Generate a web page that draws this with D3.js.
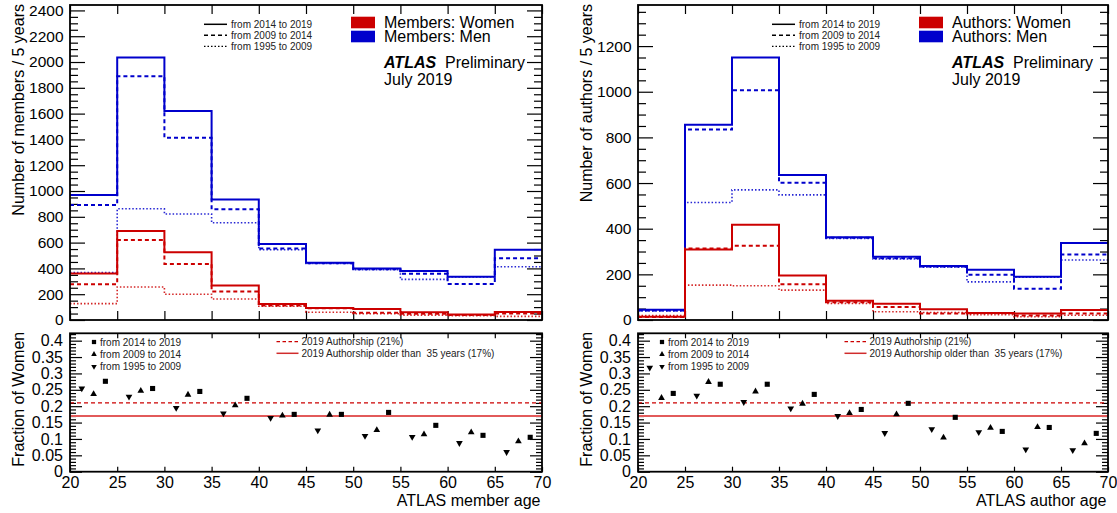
<!DOCTYPE html>
<html><head><meta charset="utf-8">
<script src="https://cdn.jsdelivr.net/npm/d3@7"></script>
<style>
html,body{margin:0;padding:0;background:#fff;}
svg{display:block;font-family:"Liberation Sans",Arial,Helvetica,sans-serif;}
</style></head><body>
<svg id="c" width="1117" height="513"></svg>
<script>
// ---------------- DATA ----------------
const ageEdges = [20,25,30,35,40,45,50,55,60,65,70];
const binStarts = [20,25,30,35,40,45,50,55,60,65];
const xTickLabels = [20,25,30,35,40,45,50,55,60,65,70];
const periods = ["from 2014 to 2019","from 2009 to 2014","from 1995 to 2009"];

// Members (counts / 5 years)
const membersMen2014   = [970, 2035, 1620, 935, 590, 444, 400, 380, 335, 545];
const membersMen2009   = [892, 1889, 1413, 858, 555, 440, 393, 359, 279, 478];
const membersMen1995   = [368,  862,  822, 754, 545, 438, 390, 315, 333, 413];
const membersWomen2014 = [360,  690,  525, 268, 124,  94,  86,  60,  43,  62];
const membersWomen2009 = [278,  620,  434, 220, 112,  92,  56,  48,  38,  51];
const membersWomen1995 = [127,  256,  200, 163, 107,  60,  48,  38,  33,  28];

// Authors (counts / 5 years)
const authorsMen2014   = [45,  855, 1150, 635, 363, 277, 237, 220, 190, 337];
const authorsMen2009   = [42,  835, 1006, 601, 360, 271, 234, 198, 137, 287];
const authorsMen1995   = [40,  515,  570, 548, 357, 268, 231, 167, 188, 263];
const authorsWomen2014 = [14,  309,  417, 195,  84,  71,  47,  31,  29,  44];
const authorsWomen2009 = [13,  313,  325, 157,  78,  57,  29,  30,  20,  29];
const authorsWomen1995 = [19,  153,  150, 131,  73,  36,  33,  23,  14,  21];

// Fraction of women
const membersFrac2014 = [0.276, 0.254, 0.245, 0.224, 0.175, 0.175, 0.181, 0.1415, 0.111, 0.105];
const membersFrac2009 = [0.237, 0.247, 0.235, 0.2025, 0.171, 0.174, 0.127, 0.114, 0.120, 0.0926];
const membersFrac1995 = [0.254, 0.229, 0.195, 0.178, 0.164, 0.126, 0.109, 0.106, 0.0875, 0.060];
const authorsFrac2014 = [0.239, 0.267, 0.267, 0.236, 0.190, 0.2087, 0.166, 0.123, 0.135, 0.117];
const authorsFrac2009 = [0.225, 0.274, 0.245, 0.2076, 0.179, 0.175, 0.104, 0.134, 0.136, 0.0865];
const authorsFrac1995 = [0.3176, 0.232, 0.2127, 0.193, 0.170, 0.118, 0.130, 0.121, 0.068, 0.066];

const authorship2019 = 0.21;
const authorshipOlder35 = 0.17;
const refLabels = ["2019 Authorship (21%)", "2019 Authorship older than  35 years (17%)"];

const membersYTicks = [0,200,400,600,800,1000,1200,1400,1600,1800,2000,2200,2400];
const authorsYTicks = [0,200,400,600,800,1000,1200];
const fracTicks = [0,0.05,0.1,0.15,0.2,0.25,0.3,0.35,0.4];
const fracTickLabels = ["0","0.05","0.1","0.15","0.2","0.25","0.3","0.35","0.4"];

// ---------------- STYLE / LAYOUT ----------------
const RED = "#cc0000", BLUE = "#0000cc";
const TOP_Y0 = 5, TOP_Y1 = 320, BOT_Y0 = 333.3, BOT_Y1 = 471.7;
const FRAC_MAX = 0.4225;
const lineStyles = [
  {dash: null, width: 2, op: 1},
  {dash: "4,3", width: 2, op: 1},
  {dash: "1.5,2", width: 1.6, op: 0.85}
];
const markerOffsets = [3.75, 2.5, 1.25]; // position within 5-year bin
const markerTypes = ["square", "up", "down"];

const panels = [
  {x0: 70, x1: 542, yTitle: "Number of members / 5 years", xTitle: "ATLAS member age",
   legW: "Members: Women", legM: "Members: Men", yTicks: membersYTicks,
   men: [membersMen2014, membersMen2009, membersMen1995],
   women: [membersWomen2014, membersWomen2009, membersWomen1995],
   frac: [membersFrac2014, membersFrac2009, membersFrac1995]},
  {x0: 638, x1: 1108, yTitle: "Number of authors / 5 years", xTitle: "ATLAS author age",
   legW: "Authors: Women", legM: "Authors: Men", yTicks: authorsYTicks,
   men: [authorsMen2014, authorsMen2009, authorsMen1995],
   women: [authorsWomen2014, authorsWomen2009, authorsWomen1995],
   frac: [authorsFrac2014, authorsFrac2009, authorsFrac1995]}
];

const svg = d3.select("#c");
svg.append("rect").attr("width",1117).attr("height",513).attr("fill","#fff");

function styleAxis(g, fs) {
  g.select(".domain").remove();
  g.selectAll(".tick line").attr("stroke","#000").attr("stroke-width",1.2);
  g.selectAll("text").attr("fill","#000").style("font-size", fs+"px")
    .style("font-family",'"Liberation Sans",Arial,sans-serif');
}
function markerPath(type, size) {
  if (type === "square") return d3.symbol().type(d3.symbolSquare).size(size)();
  return d3.symbol().type(d3.symbolTriangle).size(size * 0.75)();
}

panels.forEach(p => {
  const x = d3.scaleLinear().domain([ageEdges[0], ageEdges[ageEdges.length-1]]).range([p.x0, p.x1]);
  const allMax = d3.max([...p.men, ...p.women].flat());
  const y = d3.scaleLinear().domain([0, allMax * 1.2]).range([TOP_Y1, TOP_Y0]);
  const yf = d3.scaleLinear().domain([0, FRAC_MAX]).range([BOT_Y1, BOT_Y0]);
  const minor = d3.range(0, allMax * 1.2, 50).filter(v => v % 200 !== 0);
  const fracMinor = d3.range(0, 0.4201, 0.01).filter(v => Math.abs(v*20 - Math.round(v*20)) > 1e-6);

  // ---- top pad axes ----
  const g = svg.append("g");
  g.append("g").attr("transform",`translate(${p.x0},0)`)
    .call(d3.axisLeft(y).tickValues(p.yTicks).tickSize(-15).tickSizeOuter(0).tickPadding(6.5).tickFormat(d3.format("d")))
    .call(a => styleAxis(a, 15.5));
  g.append("g").attr("transform",`translate(${p.x0},0)`)
    .call(d3.axisLeft(y).tickValues(minor).tickSize(-8).tickSizeOuter(0).tickFormat(""))
    .call(a => styleAxis(a, 15.5));
  g.append("g").attr("transform",`translate(${p.x1},0)`)
    .call(d3.axisRight(y).tickValues(p.yTicks).tickSize(-15).tickSizeOuter(0).tickFormat(""))
    .call(a => styleAxis(a, 15.5));
  g.append("g").attr("transform",`translate(${p.x1},0)`)
    .call(d3.axisRight(y).tickValues(minor).tickSize(-8).tickSizeOuter(0).tickFormat(""))
    .call(a => styleAxis(a, 15.5));
  g.append("g").attr("transform",`translate(0,${TOP_Y1})`)
    .call(d3.axisBottom(x).tickValues(xTickLabels).tickSize(-9).tickSizeOuter(0).tickFormat(""))
    .call(a => styleAxis(a, 15.5));
  g.append("g").attr("transform",`translate(0,${TOP_Y0})`)
    .call(d3.axisTop(x).tickValues(xTickLabels).tickSize(-9).tickSizeOuter(0).tickFormat(""))
    .call(a => styleAxis(a, 15.5));

  // ---- histograms ----
  const line = d3.line().x(d => x(d[0])).y(d => y(d[1])).curve(d3.curveStepAfter);
  const drawHist = (vals, color, st) => {
    const pts = binStarts.map((b,i) => [b, vals[i]]);
    pts.push([ageEdges[ageEdges.length-1], vals[vals.length-1]]);
    g.append("path").attr("d", line(pts)).attr("fill","none")
      .attr("stroke", color).attr("stroke-width", st.width).attr("stroke-opacity", st.op)
      .attr("stroke-dasharray", st.dash);
  };
  [2,1,0].forEach(k => drawHist(p.men[k], BLUE, lineStyles[k]));
  [2,1,0].forEach(k => drawHist(p.women[k], RED, lineStyles[k]));

  // ---- top legends ----
  const lx = p.x0 + 134, ly = [24.3, 35.3, 46.3];
  periods.forEach((t,i) => {
    g.append("line").attr("x1", lx).attr("x2", lx + 23).attr("y1", ly[i]).attr("y2", ly[i])
      .attr("stroke","#000").attr("stroke-width", i===2 ? 1.3 : 1.5).attr("stroke-dasharray", lineStyles[i].dash);
    g.append("text").attr("x", lx + 27).attr("y", ly[i] + 3.5).text(t)
      .style("font-size","10px").attr("fill","#222");
  });
  const bx = p.x0 + 281;
  g.append("rect").attr("x", bx).attr("y", 16.7).attr("width", 24).attr("height", 11.6).attr("fill", RED);
  g.append("rect").attr("x", bx).attr("y", 30.7).attr("width", 24).attr("height", 11.6).attr("fill", BLUE);
  g.append("text").attr("x", p.x0 + 314).attr("y", 28.3).text(p.legW).style("font-size","16px");
  g.append("text").attr("x", p.x0 + 314).attr("y", 42.3).text(p.legM).style("font-size","16px");
  g.append("text").attr("x", p.x0 + 314).attr("y", 68.3).text("ATLAS")
    .style("font-size","16px").style("font-weight","bold").style("font-style","italic");
  g.append("text").attr("x", p.x0 + 375).attr("y", 68.3).text("Preliminary").style("font-size","16px");
  g.append("text").attr("x", p.x0 + 314).attr("y", 85).text("July 2019").style("font-size","16px");

  // y title top
  g.append("text").attr("transform", `translate(${p.x0 - 46.5},${TOP_Y0 - 1}) rotate(-90)`)
    .attr("text-anchor","end").text(p.yTitle).style("font-size","16px");

  g.append("rect").attr("x", p.x0).attr("y", TOP_Y0).attr("width", p.x1 - p.x0).attr("height", TOP_Y1 - TOP_Y0)
    .attr("fill","none").attr("stroke","#000").attr("stroke-width",1.8);

  // ---- bottom pad ----
  const b = svg.append("g");
  b.append("g").attr("transform",`translate(${p.x0},0)`)
    .call(d3.axisLeft(yf).tickValues(fracTicks).tickSize(-12).tickSizeOuter(0).tickPadding(7)
      .tickFormat((d,i) => fracTickLabels[i]))
    .call(a => styleAxis(a, 16));
  b.append("g").attr("transform",`translate(${p.x0},0)`)
    .call(d3.axisLeft(yf).tickValues(fracMinor).tickSize(-6).tickSizeOuter(0).tickFormat(""))
    .call(a => styleAxis(a, 16));
  b.append("g").attr("transform",`translate(${p.x1},0)`)
    .call(d3.axisRight(yf).tickValues(fracTicks).tickSize(-12).tickSizeOuter(0).tickFormat(""))
    .call(a => styleAxis(a, 16));
  b.append("g").attr("transform",`translate(${p.x1},0)`)
    .call(d3.axisRight(yf).tickValues(fracMinor).tickSize(-6).tickSizeOuter(0).tickFormat(""))
    .call(a => styleAxis(a, 16));
  b.append("g").attr("transform",`translate(0,${BOT_Y1})`)
    .call(d3.axisBottom(x).tickValues(xTickLabels).tickSize(-5).tickSizeOuter(0).tickPadding(5).tickFormat(d3.format("d")))
    .call(a => styleAxis(a, 16));
  b.append("g").attr("transform",`translate(0,${BOT_Y0})`)
    .call(d3.axisTop(x).tickValues(xTickLabels).tickSize(-5).tickSizeOuter(0).tickFormat(""))
    .call(a => styleAxis(a, 16));

  // reference lines
  b.append("line").attr("x1", p.x0).attr("x2", p.x1).attr("y1", yf(authorship2019)).attr("y2", yf(authorship2019))
    .attr("stroke", RED).attr("stroke-width", 1.2).attr("stroke-dasharray", "4,3");
  b.append("line").attr("x1", p.x0).attr("x2", p.x1).attr("y1", yf(authorshipOlder35)).attr("y2", yf(authorshipOlder35))
    .attr("stroke", "#e25a5a").attr("stroke-width", 2.2);

  // markers
  p.frac.forEach((vals, k) => {
    b.selectAll(null).data(binStarts.map((s,i) => [s + markerOffsets[k], vals[i]])).enter()
      .append("path").attr("d", markerPath(markerTypes[k], 26))
      .attr("transform", d => `translate(${x(d[0])},${yf(d[1])})${markerTypes[k]==="down" ? " rotate(180)" : ""}`)
      .attr("fill","#000");
  });

  // bottom legends
  const mly = [342, 354.3, 366.5];
  periods.forEach((t,i) => {
    b.append("path").attr("d", markerPath(markerTypes[i], 18))
      .attr("transform", `translate(${p.x0 + 24},${mly[i]})${markerTypes[i]==="down" ? " rotate(180)" : ""}`)
      .attr("fill","#000");
    b.append("text").attr("x", p.x0 + 30).attr("y", mly[i] + 3.5).text(t).style("font-size","10px").attr("fill","#222");
  });
  const rly = [341.7, 353.3];
  b.append("line").attr("x1", p.x0 + 206.5).attr("x2", p.x0 + 228.5).attr("y1", rly[0]).attr("y2", rly[0])
    .attr("stroke", RED).attr("stroke-width", 1.3).attr("stroke-dasharray", "3.5,2.5");
  b.append("line").attr("x1", p.x0 + 206.5).attr("x2", p.x0 + 228.5).attr("y1", rly[1]).attr("y2", rly[1])
    .attr("stroke", "#d02c2c").attr("stroke-width", 1.5);
  refLabels.forEach((t,i) => {
    b.append("text").attr("x", p.x0 + 231.5).attr("y", rly[i] + 3.5).text(t)
      .style("font-size","10px").attr("fill","#222").style("white-space","pre").attr("xml:space","preserve");
  });

  // titles
  b.append("text").attr("transform", `translate(${p.x0 - 46},${BOT_Y0 - 1.5}) rotate(-90)`)
    .attr("text-anchor","end").text("Fraction of Women").style("font-size","16px");
  b.append("text").attr("x", p.x1 - 1.5).attr("y", 505.5).attr("text-anchor","end")
    .text(p.xTitle).style("font-size","16px");

  b.append("rect").attr("x", p.x0).attr("y", BOT_Y0).attr("width", p.x1 - p.x0).attr("height", BOT_Y1 - BOT_Y0)
    .attr("fill","none").attr("stroke","#000").attr("stroke-width",1.8);
});
</script>
</body></html>
